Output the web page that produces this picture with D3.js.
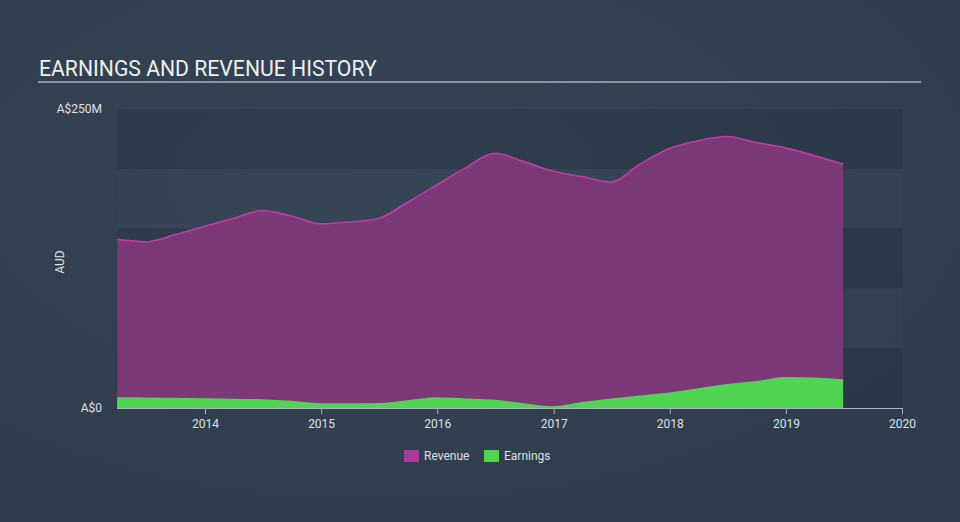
<!DOCTYPE html>
<html><head><meta charset="utf-8">
<script src="https://cdn.jsdelivr.net/npm/d3@7"></script>
<style>
html,body{margin:0;padding:0;background:#334152;}
svg{display:block;font-family:Roboto,"Open Sans",sans-serif;}
</style></head>
<body>
<svg id="chart" width="960" height="522"></svg>
<script>
const dates = ["2013-03-31","2013-06-30","2013-09-30","2013-12-31","2014-03-31","2014-06-30","2014-09-30","2014-12-31","2015-03-31","2015-06-30","2015-09-30","2015-12-31","2016-03-31","2016-06-30","2016-09-30","2016-12-31","2017-03-31","2017-06-30","2017-09-30","2017-12-31","2018-03-31","2018-06-30","2018-09-30","2018-12-31","2019-03-31","2019-06-30"];
const revenue = [141,139,145,152,158.5,165,160.5,154,155.5,158.5,172,186.5,201,213,206,198,193.5,189,204,217,223.5,227,222,217.5,211,204];
const earnings = [9,8.8,8.5,8.2,7.8,7.4,6,4,4,4.2,6.5,9,8,6.8,4,1.5,5,8,10.5,13,16.5,20,22.5,26,25.5,24];
const yTickLabels = ["A$0","A$250M"];
const yTickValues = [0,250];
const xTickYears = [2014,2015,2016,2017,2018,2019,2020];
const legendItems = ["Revenue","Earnings"];

(function(){
const svg = d3.select("#chart");
const W = 960, H = 522;
const pLeft = 117, pRight = 902, pTop = 109, pBottom = 408;

const defs = svg.append("defs");
const grad = defs.append("radialGradient").attr("id","bg").attr("cx","40%").attr("cy","35%").attr("r","75%");
grad.append("stop").attr("offset","0%").attr("stop-color","#354455");
grad.append("stop").attr("offset","100%").attr("stop-color","#303c4b");
svg.append("rect").attr("width",W).attr("height",H).attr("fill","url(#bg)");

const parse = d3.timeParse("%Y-%m-%d");
const data = dates.map((d,i)=>({date:parse(d), rev:revenue[i], earn:earnings[i]}));

const x = d3.scaleTime().domain([new Date(2014,0,1), new Date(2020,0,1)]).range([205, pRight]);
const y = d3.scaleLinear().domain([0,250]).range([pBottom, pTop]);

const bandEdges = [250,200,150,100,50,0];
for (let i=0;i<5;i++){
  svg.append("rect").attr("x",pLeft).attr("width",pRight-pLeft)
    .attr("y",y(bandEdges[i])).attr("height",y(bandEdges[i+1])-y(bandEdges[i]))
    .attr("fill", i%2===0 ? "rgba(10,20,30,0.12)" : "rgba(255,255,255,0.012)");
}

svg.append("text").attr("x",39).attr("y",76).attr("fill","#eef0f2")
  .attr("font-size",21.2).text("EARNINGS AND REVENUE HISTORY");
svg.append("line").attr("x1",38).attr("x2",921).attr("y1",82).attr("y2",82)
  .attr("stroke","#a9b0ba").attr("stroke-width",1.5);

const curve = d3.curveMonotoneX;
svg.append("path").datum(data)
  .attr("d", d3.area().x(d=>x(d.date)).y0(y(0)).y1(d=>y(d.rev)).curve(curve))
  .attr("fill","#7b3a77");
svg.append("path").datum(data)
  .attr("d", d3.line().x(d=>x(d.date)).y(d=>y(d.rev)).curve(curve))
  .attr("fill","none").attr("stroke","#c13aa8").attr("stroke-width",1.6);
svg.append("path").datum(data)
  .attr("d", d3.area().x(d=>x(d.date)).y0(y(0)).y1(d=>y(d.earn)).curve(curve))
  .attr("fill","#4fd552");

const xAxis = d3.axisBottom(x).tickValues(xTickYears.map(yr=>new Date(yr,0,1)))
  .tickFormat(d3.timeFormat("%Y")).tickSize(6).tickSizeOuter(0);
const gx = svg.append("g").attr("transform",`translate(0,${pBottom})`).call(xAxis);
gx.select(".domain").attr("stroke","#a9b3bf").attr("d",`M${pLeft},0.5H${pRight}`);
gx.selectAll(".tick line").attr("stroke","#a9b3bf");
gx.selectAll(".tick text").attr("fill","#dde1e6").attr("font-size",12).attr("dy","0.9em")
  .attr("font-family","Roboto,sans-serif");

const gy = svg.append("g");
gy.selectAll("text").data(yTickValues).join("text")
  .attr("x",102).attr("y",d=>y(d)).attr("dy","0.35em").attr("text-anchor","end")
  .attr("fill","#dde1e6").attr("font-size",12)
  .text((d,i)=>yTickLabels[i]);
svg.append("text").attr("transform","translate(60,262) rotate(-90)")
  .attr("text-anchor","middle").attr("dy","0.35em").attr("fill","#dde1e6").attr("font-size",12).text("AUD");

const legColors = ["#a83a9b","#4fd552"];
const legX = [404,484];
legendItems.forEach((name,i)=>{
  svg.append("rect").attr("x",legX[i]).attr("y",450).attr("width",15).attr("height",12).attr("fill",legColors[i]);
  svg.append("text").attr("x",legX[i]+20).attr("y",456).attr("dy","0.35em")
    .attr("fill","#dde1e6").attr("font-size",12).text(name);
});
})();
</script>
</body></html>
